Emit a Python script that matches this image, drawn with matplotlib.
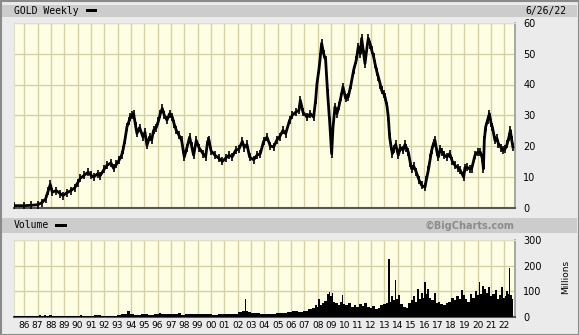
import matplotlib
matplotlib.use("Agg")
import numpy as np
from matplotlib import pyplot as plt
from matplotlib.patches import Rectangle

# weekly price (year, USD)
price_year = [1985.25, 1986.0, 1986.5, 1987.0, 1987.3, 1987.6, 1987.8, 1987.95, 1988.1, 1988.4,
              1988.7, 1988.9, 1989.2, 1989.5, 1989.8, 1990.0, 1990.2, 1990.5, 1990.8, 1991.0,
              1991.2, 1991.5, 1991.7, 1992.0, 1992.2, 1992.5, 1992.7, 1992.9, 1993.1, 1993.3,
              1993.4, 1993.55, 1993.7, 1993.85, 1993.95, 1994.1, 1994.2, 1994.35, 1994.45, 1994.65,
              1994.9, 1995.05, 1995.2, 1995.4, 1995.55, 1995.7, 1995.9, 1996.05, 1996.2, 1996.35,
              1996.5, 1996.7, 1996.9, 1997.1, 1997.25, 1997.4, 1997.6, 1997.8, 1997.9, 1998.0,
              1998.2, 1998.4, 1998.55, 1998.7, 1998.9, 1999.1, 1999.4, 1999.6, 1999.75, 1999.85,
              2000.0, 2000.3, 2000.6, 2000.85, 2001.1, 2001.35, 2001.6, 2001.85, 2002.1, 2002.35,
              2002.5, 2002.7, 2002.9, 2003.2, 2003.45, 2003.7, 2003.95, 2004.2, 2004.45, 2004.7,
              2004.95, 2005.15, 2005.4, 2005.6, 2005.9, 2006.1, 2006.35, 2006.6, 2006.7, 2006.9,
              2007.2, 2007.45, 2007.7, 2007.85, 2007.95, 2008.1, 2008.2, 2008.3, 2008.45, 2008.6,
              2008.75, 2008.9, 2009.05, 2009.15, 2009.3, 2009.45, 2009.6, 2009.75, 2009.9, 2010.1,
              2010.3, 2010.5, 2010.7, 2010.9, 2011.05, 2011.2, 2011.3, 2011.45, 2011.55, 2011.7,
              2011.8, 2011.95, 2012.05, 2012.2, 2012.3, 2012.45, 2012.55, 2012.7, 2012.8, 2012.95,
              2013.05, 2013.2, 2013.3, 2013.4, 2013.5, 2013.6, 2013.7, 2013.85, 2014.05, 2014.2,
              2014.4, 2014.55, 2014.65, 2014.8, 2014.95, 2015.05, 2015.2, 2015.4, 2015.6, 2015.8,
              2016.05, 2016.15, 2016.3, 2016.45, 2016.55, 2016.7, 2016.8, 2016.95, 2017.05, 2017.2,
              2017.35, 2017.5, 2017.7, 2017.9, 2018.1, 2018.3, 2018.5, 2018.7, 2018.95, 2019.05,
              2019.2, 2019.4, 2019.55, 2019.8, 2020.0, 2020.2, 2020.35, 2020.43, 2020.5, 2020.6,
              2020.75, 2020.88, 2021.0, 2021.1, 2021.3, 2021.45, 2021.55, 2021.75, 2021.9, 2022.05,
              2022.2, 2022.35, 2022.45, 2022.55, 2022.64]
price = [0.6, 0.6, 0.7, 0.9, 1.5, 2.8, 5.5, 7.5, 5.0, 5.5,
         4.5, 3.9, 4.8, 5.5, 6.5, 8.0, 9.5, 10.5, 11.5, 10.5,
         9.9, 11.0, 10.4, 12.5, 13.7, 14.5, 12.7, 14.0, 15.3, 17.0,
         18.6, 22.0, 26.2, 28.0, 29.4, 30.0, 30.5, 26.5, 24.1, 26.0,
         22.9, 24.5, 20.2, 23.0, 22.0, 25.1, 26.0, 28.0, 30.5, 32.2,
         30.0, 28.4, 30.5, 29.4, 27.0, 25.1, 23.5, 21.8, 19.0, 16.4,
         19.5, 22.9, 20.0, 17.0, 21.8, 19.5, 17.5, 16.5, 21.5, 22.0,
         18.5, 17.0, 16.0, 15.0, 16.0, 17.0, 16.5, 18.6, 19.0, 21.5,
         19.5, 20.5, 16.4, 15.5, 17.0, 17.5, 21.5, 22.9, 20.0, 19.7,
         22.0, 23.0, 25.1, 24.0, 28.4, 30.0, 31.0, 31.6, 34.9, 31.0,
         29.4, 30.5, 29.4, 35.0, 40.3, 45.0, 49.0, 53.4, 50.0, 47.9,
         37.1, 28.0, 17.5, 26.0, 32.7, 30.5, 33.0, 36.0, 39.2, 35.5,
         36.0, 40.0, 44.7, 48.0, 52.3, 50.0, 55.0, 50.0, 46.8, 52.0,
         55.0, 53.0, 51.2, 49.0, 46.8, 44.0, 42.5, 40.0, 38.1, 37.0,
         36.0, 33.0, 29.4, 22.9, 20.0, 17.5, 19.0, 20.5, 17.0, 19.5,
         18.6, 20.5, 19.5, 18.0, 14.5, 12.6, 13.5, 11.5, 9.0, 7.2,
         6.6, 9.0, 12.1, 16.0, 18.6, 21.0, 21.8, 18.0, 16.4, 19.0,
         18.0, 17.0, 16.4, 17.5, 15.0, 13.7, 13.0, 12.1, 9.9, 13.0,
         13.1, 12.5, 12.6, 17.0, 18.0, 18.0, 16.0, 12.6, 22.0, 26.2,
         28.5, 30.5, 27.5, 26.2, 21.8, 22.5, 20.8, 19.5, 18.6, 19.0,
         20.5, 23.0, 25.1, 22.0, 19.7]

# weekly volume, millions
vol_year = [1985.25, 1986.0, 1986.5, 1987.0, 1987.2, 1987.3, 1987.6, 1987.7, 1988.0, 1988.1,
            1988.6, 1989.0, 1989.5, 1990.0, 1990.3, 1990.4, 1991.0, 1991.5, 1992.0, 1992.5,
            1992.9, 1993.0, 1993.5, 1993.9, 1994.0, 1994.5, 1995.0, 1995.5, 1996.0, 1996.2,
            1996.3, 1996.8, 1997.3, 1997.7, 1997.8, 1998.3, 1998.8, 1999.3, 1999.8, 2000.3,
            2000.8, 2001.3, 2001.8, 2002.2, 2002.5, 2002.6, 2002.7, 2002.9, 2003.1, 2003.5,
            2003.9, 2004.3, 2004.7, 2005.1, 2005.5, 2005.9, 2006.3, 2006.7, 2007.1, 2007.4,
            2007.7, 2007.9, 2008.0, 2008.1, 2008.2, 2008.4, 2008.6, 2008.8, 2008.9, 2009.0,
            2009.1, 2009.2, 2009.4, 2009.6, 2009.75, 2009.85, 2009.95, 2010.2, 2010.4, 2010.6,
            2010.8, 2011.0, 2011.2, 2011.4, 2011.6, 2011.8, 2012.0, 2012.2, 2012.4, 2012.6,
            2012.8, 2013.0, 2013.2, 2013.35, 2013.45, 2013.6, 2013.75, 2013.85, 2013.95, 2014.1,
            2014.3, 2014.5, 2014.7, 2014.9, 2015.1, 2015.25, 2015.4, 2015.55, 2015.65, 2015.8,
            2015.95, 2016.05, 2016.15, 2016.3, 2016.45, 2016.6, 2016.8, 2016.95, 2017.1, 2017.3,
            2017.5, 2017.7, 2017.9, 2018.1, 2018.3, 2018.5, 2018.7, 2018.85, 2018.95, 2019.1,
            2019.3, 2019.5, 2019.7, 2019.85, 2020.0, 2020.15, 2020.25, 2020.4, 2020.55, 2020.7,
            2020.85, 2021.0, 2021.2, 2021.35, 2021.5, 2021.65, 2021.8, 2021.95, 2022.1, 2022.2,
            2022.3, 2022.4, 2022.5, 2022.64]
vol = [2, 2, 3, 4, 8, 3, 9, 4, 8, 3,
       3, 4, 3, 5, 8, 4, 4, 6, 4, 5,
       4, 8, 10, 23, 10, 9, 10, 8, 11, 16,
       10, 12, 10, 14, 9, 12, 10, 11, 13, 9,
       10, 11, 13, 18, 22, 69, 24, 20, 17, 14,
       11, 13, 12, 14, 16, 19, 22, 20, 24, 30,
       36, 48, 40, 72, 45, 55, 62, 90, 98, 80,
       95, 60, 55, 48, 60, 85, 50, 45, 55, 40,
       48, 38, 52, 42, 55, 40, 35, 42, 30, 36,
       45, 50, 55, 226, 60, 80, 65, 143, 70, 85,
       50, 40, 35, 55, 65, 80, 60, 111, 70, 95,
       75, 137, 90, 110, 75, 65, 95, 55, 60, 50,
       45, 55, 60, 75, 65, 80, 70, 104, 85, 70,
       60, 90, 75, 100, 85, 137, 90, 120, 110, 95,
       115, 80, 90, 105, 70, 85, 117, 75, 80, 100,
       90, 192, 85, 70]

years = list(range(1986, 2023))
year_labels = ["86", "87", "88", "89", "90", "91", "92", "93", "94", "95", "96", "97", "98",
               "99", "00", "01", "02", "03", "04", "05", "06", "07", "08", "09", "10", "11",
               "12", "13", "14", "15", "16", "17", "18", "19", "20", "21", "22"]

bg = "#ebebeb"
band = "#cccccc"
face = "#fefee4"
grid = "#d4d1a4"
W, H = 579, 335

fig = plt.figure(figsize=(5.79, 3.35), dpi=100, facecolor=bg)

# header bands and outer frame
fig.patches.append(Rectangle((2 / W, 1 - 17 / H), 575 / W, 12 / H, transform=fig.transFigure,
                             facecolor=band, edgecolor="none"))
fig.patches.append(Rectangle((2 / W, 1 - 233 / H), 575 / W, 15 / H, transform=fig.transFigure,
                             facecolor=band, edgecolor="none"))
fig.patches.append(Rectangle((0.5 / W, 0.5 / H), 1 - 1 / W, 1 - 1 / H, transform=fig.transFigure,
                             facecolor="none", edgecolor="#8a8a8a", lw=1.5))

ax = fig.add_axes([14 / W, 1 - 207.5 / H, 501 / W, 184.5 / H])
axv = fig.add_axes([14 / W, 1 - 317 / H, 501 / W, 77 / H])

for a in (ax, axv):
    a.set_facecolor(face)
    a.set_xlim(1985.23, 2022.8)
    a.set_xticks(years)
    a.grid(True, color=grid, lw=1)
    a.set_axisbelow(True)
    a.yaxis.tick_right()
    a.tick_params(length=0, labelsize=7, pad=6)
    for s in ("top", "left"):
        a.spines[s].set_color("#e0dfc0")
        a.spines[s].set_linewidth(0.8)
    a.spines["bottom"].set_color("#555555")
    a.spines["bottom"].set_linewidth(1.5)
    a.spines["right"].set_color("#999999")
    a.spines["right"].set_linewidth(1.2)

ax.plot(price_year, price, color="black", lw=2.0, zorder=3)
ax.plot(price_year, price, ls="none", marker="|", ms=6, mew=1.2, color="black", zorder=3)
ax.set_ylim(0, 60)
ax.set_yticks([0, 10, 20, 30, 40, 50, 60])
ax.set_xticklabels([])

axv.fill_between(vol_year, vol, step="mid", color="black", lw=0, zorder=3)
axv.set_ylim(0, 300)
axv.set_yticks([0, 100, 200, 300])
axv.set_xticklabels(year_labels, fontsize=6.5)
axv.tick_params(axis="x", pad=3)

mono = "DejaVu Sans Mono"
fig.text(14 / W, 1 - 11 / H, "GOLD Weekly", family=mono, fontsize=7, va="center", ha="left")
fig.patches.append(Rectangle((86 / W, 1 - 12 / H), 11 / W, 3 / H, transform=fig.transFigure,
                             facecolor="black", edgecolor="none"))
fig.text(566 / W, 1 - 11 / H, "6/26/22", family=mono, fontsize=7, va="center", ha="right")
fig.text(14 / W, 1 - 225.5 / H, "Volume", family=mono, fontsize=7, va="center", ha="left")
fig.patches.append(Rectangle((55 / W, 1 - 227 / H), 12 / W, 3 / H, transform=fig.transFigure,
                             facecolor="black", edgecolor="none"))
fig.text(515 / W, 1 - 225.5 / H, "\u00a9BigCharts.com", fontsize=7, weight="bold",
         color="#8c8c8c", va="center", ha="right")
fig.text(566 / W, 1 - 277 / H, "Millions", fontsize=6.5, rotation=90, va="center", ha="center")

fig.savefig("out.png", dpi=100, facecolor=bg)
